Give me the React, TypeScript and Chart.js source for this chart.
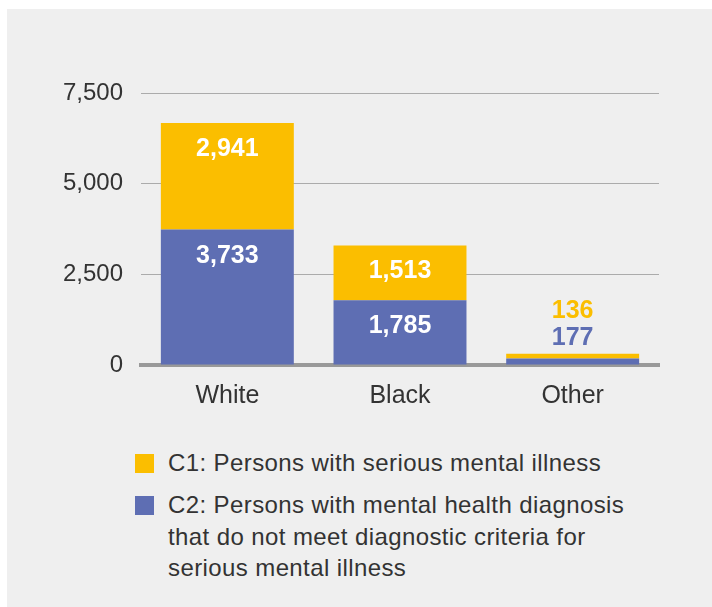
import React, { useEffect, useRef } from "react";
import { Chart, registerables } from "chart.js";

Chart.register(...registerables);

const categories = ["White", "Black", "Other"];
const c1Values = [2941, 1513, 136];
const c2Values = [3733, 1785, 177];
const yTickValues = [0, 2500, 5000, 7500];
const c1Label = "C1: Persons with serious mental illness";
const c2Lines = [
  "C2: Persons with mental health diagnosis",
  "that do not meet diagnostic criteria for",
  "serious mental illness",
];

const YELLOW = "#FBBE00";
const BLUE = "#5E6EB3";
const FONT = "'Liberation Sans', Arial, Helvetica, sans-serif";
const TEXT = "#333333";

const fmt = (v: number) => v.toLocaleString("en-US");

const labelPlugin = {
  id: "stackLabels",
  afterDatasetsDraw(chart: any) {
    const ctx = chart.ctx;
    ctx.save();
    ctx.font = `bold 25px ${FONT}`;
    ctx.textAlign = "center";
    ctx.textBaseline = "middle";
    const n = chart.data.labels.length;
    for (let j = 0; j < n; j++) {
      let small = false;
      let stackTop = Infinity;
      chart.data.datasets.forEach((ds: any, i: number) => {
        const el = chart.getDatasetMeta(i).data[j];
        if (el.base - el.y < 40) small = true;
        stackTop = Math.min(stackTop, el.y);
      });
      chart.data.datasets.forEach((ds: any, i: number) => {
        const el = chart.getDatasetMeta(i).data[j];
        const text = fmt(ds.data[j]);
        if (!small) {
          ctx.fillStyle = "#ffffff";
          ctx.fillText(text, el.x, el.y + 26);
        } else {
          ctx.fillStyle = ds.backgroundColor;
          ctx.fillText(text, el.x, stackTop - 16 - 27 * i);
        }
      });
    }
    ctx.restore();
  },
};

function ChartCanvas() {
  const ref = useRef<HTMLCanvasElement | null>(null);
  useEffect(() => {
    if (!ref.current) return;
    const chart = new Chart(ref.current, {
      type: "bar",
      data: {
        labels: categories,
        datasets: [
          { label: "C2", data: c2Values, backgroundColor: BLUE, borderWidth: 0 },
          { label: "C1", data: c1Values, backgroundColor: YELLOW, borderWidth: 0 },
        ],
      },
      options: {
        animation: false,
        responsive: false,
        maintainAspectRatio: false,
        layout: { padding: { left: 0, right: 53, top: 84, bottom: 0 } },
        plugins: { legend: { display: false }, tooltip: { enabled: false } },
        datasets: { bar: { categoryPercentage: 1, barPercentage: 0.77 } },
        scales: {
          x: {
            stacked: true,
            grid: { display: false, drawTicks: false },
            border: { display: true, color: "#999999", width: 4 },
            ticks: { color: TEXT, font: { family: FONT, size: 25 }, padding: 16 },
            afterFit: (s: any) => { s.height = 64; },
          },
          y: {
            stacked: true,
            min: 0,
            max: 7500,
            afterBuildTicks: (s: any) => { s.ticks = yTickValues.map((v) => ({ value: v })); },
            grid: { color: "#ababab", lineWidth: 1, drawTicks: false },
            border: { display: false },
            ticks: {
              color: TEXT,
              font: { family: FONT, size: 24 },
              padding: 18,
              callback: (v: any) => fmt(Number(v)),
            },
            afterFit: (s: any) => { s.width = 134; },
          },
        },
      },
      plugins: [labelPlugin],
    });
    return () => chart.destroy();
  }, []);
  return (
    <canvas
      ref={ref}
      width={705}
      height={420}
      style={{ position: "absolute", left: 0, top: 0, width: 705, height: 420 }}
    />
  );
}

export default function App() {
  const textStyle: React.CSSProperties = {
    position: "absolute",
    left: 161,
    fontFamily: FONT,
    fontSize: 24,
    letterSpacing: "0.4px",
    lineHeight: "31.5px",
    color: TEXT,
    whiteSpace: "nowrap",
  };
  return (
    <div
      style={{
        position: "fixed",
        left: 7,
        top: 9,
        width: 705,
        height: 598,
        background: "#efefef",
        overflow: "hidden",
      }}
    >
      <ChartCanvas />
      <div style={{ position: "absolute", left: 128, top: 445, width: 19, height: 19, background: YELLOW }} />
      <div style={{ ...textStyle, top: 438 }}>{c1Label}</div>
      <div style={{ position: "absolute", left: 128, top: 487, width: 19, height: 19, background: BLUE }} />
      <div style={{ ...textStyle, top: 480 }}>
        {c2Lines.map((l, i) => (
          <div key={i}>{l}</div>
        ))}
      </div>
    </div>
  );
}
